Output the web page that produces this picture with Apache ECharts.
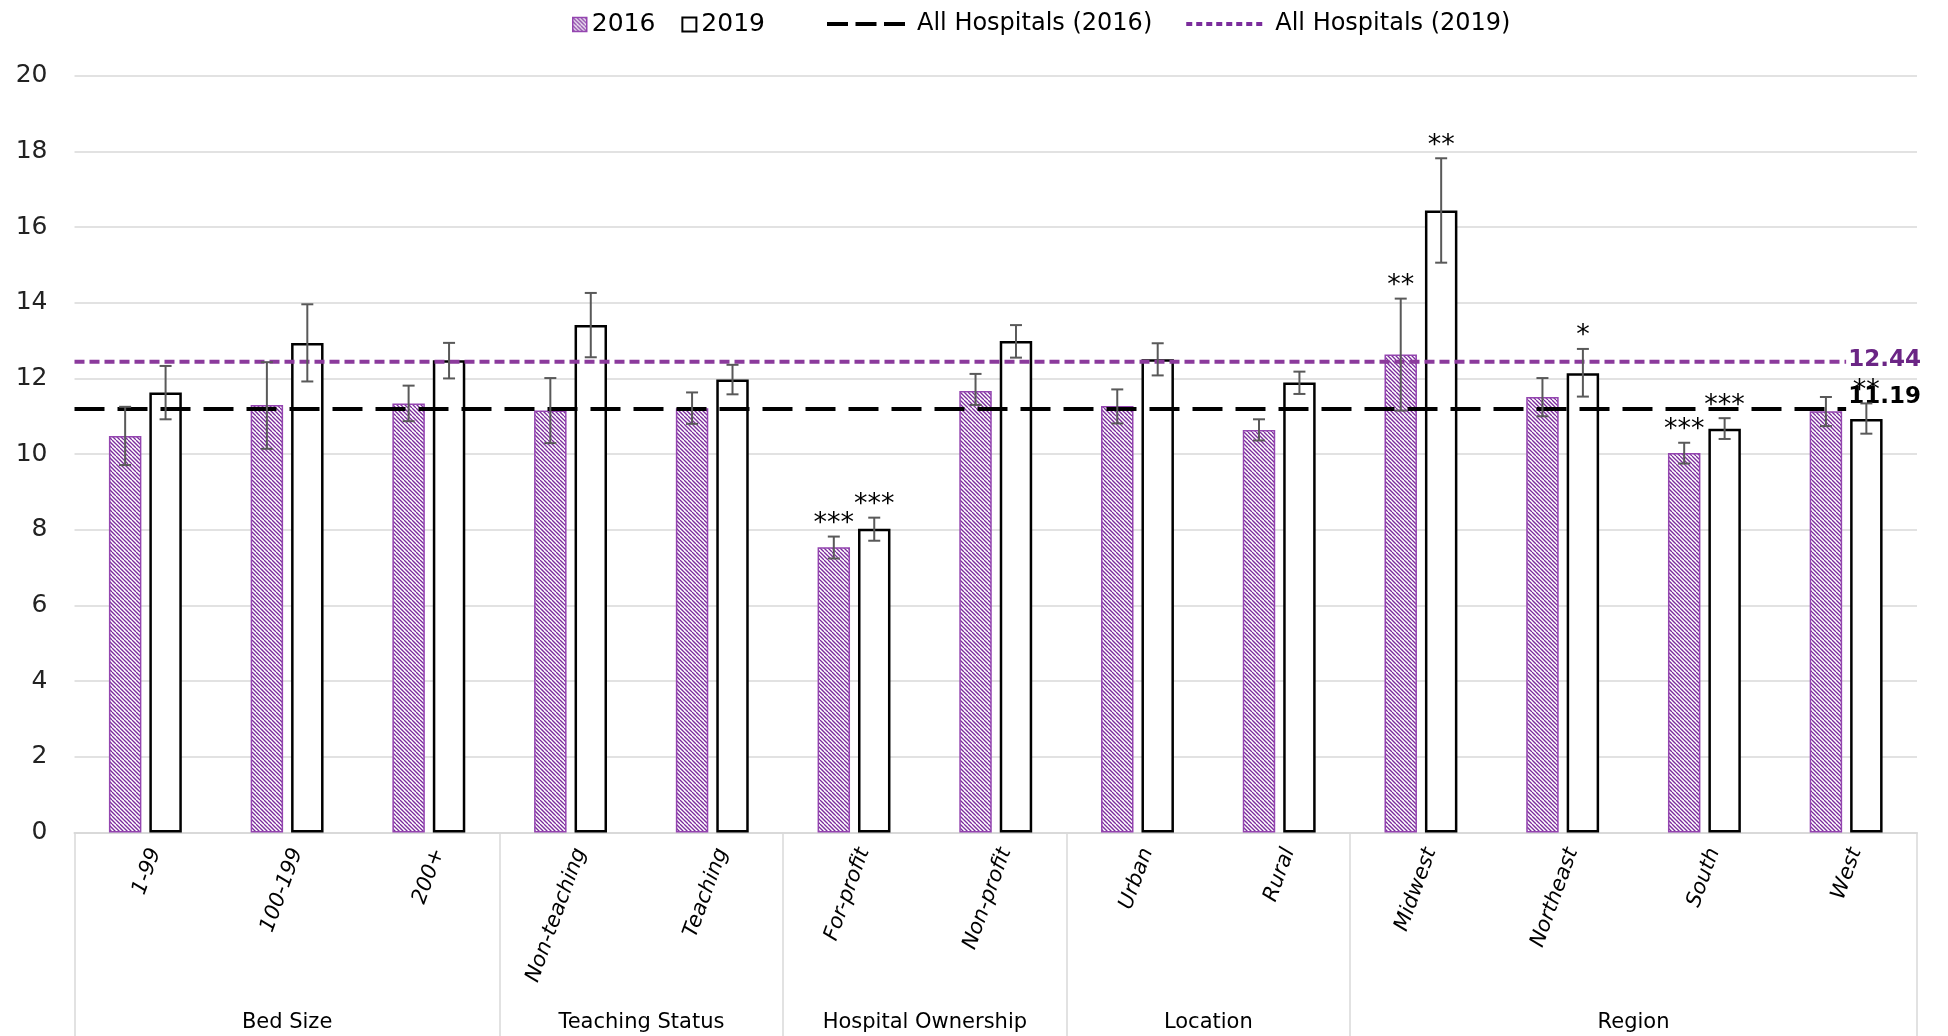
<!DOCTYPE html>
<html lang="en">

<head>
    <meta charset="UTF-8">
    <title>Hospital measures by characteristic, 2016 vs 2019</title>
    <script src="https://cdn.jsdelivr.net/npm/echarts@6/dist/echarts.min.js"></script>
    <style>
        body {
            margin: 0;
            padding: 0;
            background-color: #ffffff;
        }

        #chart {
            width: 1948px;
            height: 1036px;
        }
    </style>
</head>

<body>
    <div id="chart"></div>

    <script>
        // categories and groups
        const categories = ['1-99', '100-199', '200+', 'Non-teaching', 'Teaching', 'For-profit', 'Non-profit',
            'Urban', 'Rural', 'Midwest', 'Northeast', 'South', 'West'];
        const groupNames = ['Bed Size', 'Teaching Status', 'Hospital Ownership', 'Location', 'Region'];
        const groupSizes = [3, 2, 2, 2, 4];

        // 2016 values with error bar ends
        const val2016 = [10.48, 11.30, 11.34, 11.15, 11.21, 7.54, 11.67, 11.27, 10.64, 12.63, 11.51, 10.03, 11.13];
        const lo2016 = [9.71, 10.14, 10.87, 10.29, 10.80, 7.24, 11.30, 10.81, 10.36, 11.15, 11.00, 9.75, 10.74];
        const hi2016 = [11.25, 12.43, 11.81, 12.01, 11.63, 7.82, 12.12, 11.71, 10.92, 14.11, 12.01, 10.30, 11.51];
        const sig2016 = ['', '', '', '', '', '***', '', '', '', '**', '', '***', ''];

        // 2019 values with error bar ends
        const val2019 = [11.63, 12.94, 12.48, 13.41, 11.97, 8.03, 12.99, 12.51, 11.89, 16.44, 12.14, 10.67, 10.93];
        const lo2019 = [10.92, 11.92, 12.00, 12.56, 11.58, 7.71, 12.55, 12.08, 11.59, 15.06, 11.52, 10.40, 10.54];
        const hi2019 = [12.33, 13.96, 12.94, 14.26, 12.36, 8.32, 13.41, 12.93, 12.18, 17.82, 12.78, 10.95, 11.34];
        const sig2019 = ['', '', '', '', '', '***', '', '', '', '**', '*', '***', '**'];

        // all hospitals averages
        const allHosp2016 = 11.19;
        const allHosp2019 = 12.44;

        // group boundaries and centres on a 0..n scale
        const groupEdges = [0];
        groupSizes.forEach(function (s) { groupEdges.push(groupEdges[groupEdges.length - 1] + s); });
        const groupCenters = groupSizes.map(function (s, i) { return groupEdges[i] + s / 2; });

        // purple hatch for the 2016 bars
        const hatch = document.createElement('canvas');
        hatch.width = 8;
        hatch.height = 8;
        const hctx = hatch.getContext('2d');
        hctx.fillStyle = '#ffffff';
        hctx.fillRect(0, 0, 8, 8);
        hctx.strokeStyle = '#7B2C9C';
        hctx.lineWidth = 1.3;
        [-8, -4, 0, 4, 8].forEach(function (x0) {
            hctx.beginPath();
            hctx.moveTo(x0, 0);
            hctx.lineTo(x0 + 8, 8);
            hctx.stroke();
        });
        const hatchFill = { image: hatch, repeat: 'repeat' };

        // legend icons for the dashed reference lines
        function dashIcon(dash, gap, total) {
            let p = 'path://';
            for (let x = 0; x + dash <= total + 0.01; x += dash + gap) {
                p += 'M' + x + ',0h' + dash + 'v4h-' + dash + 'z ';
            }
            return p;
        }

        const BAR_W = 0.229;   // share of the category band
        const BAR_GAP = 0.246; // share of bar width

        function errorBars(lo, hi, sig, side) {
            return function (params, api) {
                const i = params.dataIndex;
                const band = api.size([1, 0])[0];
                const bw = band * BAR_W;
                const dx = side * (bw + bw * BAR_GAP) / 2;
                const top = api.coord([i, hi[i]]);
                const bot = api.coord([i, lo[i]]);
                const x = top[0] + dx;
                const cap = 6;
                const st = { stroke: '#595959', lineWidth: 2 };
                const children = [
                    { type: 'line', shape: { x1: x, y1: top[1], x2: x, y2: bot[1] }, style: st },
                    { type: 'line', shape: { x1: x - cap, y1: top[1], x2: x + cap, y2: top[1] }, style: st },
                    { type: 'line', shape: { x1: x - cap, y1: bot[1], x2: x + cap, y2: bot[1] }, style: st }
                ];
                if (sig[i]) {
                    children.push({
                        type: 'text',
                        style: {
                            x: x,
                            y: top[1] + 1,
                            text: sig[i],
                            fill: '#000',
                            font: '27px "DejaVu Sans"',
                            align: 'center',
                            verticalAlign: 'bottom'
                        }
                    });
                }
                return { type: 'group', children: children };
            };
        }

        const chart = echarts.init(document.getElementById('chart'));
        const option = {
            animation: false,
            textStyle: { fontFamily: '"DejaVu Sans", Verdana, sans-serif' },
            legend: [{
                left: 567,
                top: 7,
                itemWidth: 14,
                itemHeight: 14,
                itemGap: 26,
                textStyle: { fontSize: 25, color: '#000' },
                data: [
                    { name: '2016', icon: 'rect', itemStyle: { color: hatchFill, borderColor: '#9445B0', borderWidth: 1.5 } },
                    { name: '2019', icon: 'rect', itemStyle: { color: '#fff', borderColor: '#000', borderWidth: 2 } }
                ]
            }, {
                left: 822,
                top: 7,
                itemWidth: 78,
                itemHeight: 4,
                itemGap: 34,
                textStyle: { fontSize: 24, color: '#000', padding: [0, 0, 0, 7] },
                data: [
                    { name: 'All Hospitals (2016)', icon: dashIcon(21, 7.5, 78), itemStyle: { color: '#000', borderWidth: 0 } },
                    { name: 'All Hospitals (2019)', icon: dashIcon(6, 4, 78), itemStyle: { color: '#7B2C9C', borderWidth: 0 } }
                ]
            }],
            grid: {
                left: 74.5,
                right: 31,
                top: 75.8,
                bottom: 203.6,
                containLabel: false
            },
            xAxis: [{
                type: 'category',
                data: categories,
                axisLine: { lineStyle: { color: '#d9d9d9', width: 2 } },
                axisTick: { show: false },
                axisLabel: {
                    interval: 0,
                    rotate: 70,
                    verticalAlign: 'top',
                    fontStyle: 'italic',
                    fontSize: 21,
                    color: '#000',
                    margin: 13
                }
            }, {
                type: 'value',
                min: 0,
                max: categories.length,
                position: 'bottom',
                axisLine: { show: false },
                splitLine: { show: false },
                axisTick: {
                    show: true,
                    customValues: groupEdges,
                    length: 204,
                    lineStyle: { color: '#d9d9d9', width: 1.5 }
                },
                axisLabel: {
                    customValues: groupCenters,
                    margin: 180,
                    fontSize: 21,
                    color: '#000',
                    formatter: function (v) {
                        const k = groupCenters.indexOf(v);
                        return k >= 0 ? groupNames[k] : '';
                    }
                }
            }],
            yAxis: {
                type: 'value',
                min: 0,
                max: 20,
                interval: 2,
                axisLine: { show: false },
                axisTick: { show: false },
                axisLabel: { fontSize: 25, color: '#222', margin: 27 },
                splitLine: { lineStyle: { color: '#d9d9d9', width: 1.5 } }
            },
            series: [{
                name: '2016',
                type: 'bar',
                data: val2016,
                barWidth: (BAR_W * 100) + '%',
                barGap: (BAR_GAP * 100) + '%',
                itemStyle: { color: hatchFill, borderColor: '#9445B0', borderWidth: 1.5 },
                z: 2
            }, {
                name: '2019',
                type: 'bar',
                data: val2019,
                barWidth: (BAR_W * 100) + '%',
                barGap: (BAR_GAP * 100) + '%',
                itemStyle: { color: '#fff', borderColor: '#000', borderWidth: 2.5 },
                z: 2
            }, {
                name: 'All Hospitals (2016)',
                type: 'line',
                xAxisIndex: 1,
                data: [[0, allHosp2016], [categories.length - 0.5, allHosp2016]],
                symbol: 'none',
                silent: true,
                lineStyle: { color: '#000', width: 4, type: [30, 13] },
                itemStyle: { color: '#000' },
                endLabel: {
                    show: true,
                    formatter: allHosp2016.toFixed(2),
                    fontSize: 23,
                    fontWeight: 'bold',
                    color: '#000',
                    distance: 2,
                    offset: [0, -12]
                },
                z: 3
            }, {
                name: 'All Hospitals (2019)',
                type: 'line',
                xAxisIndex: 1,
                data: [[0, allHosp2019], [categories.length - 0.5, allHosp2019]],
                symbol: 'none',
                silent: true,
                lineStyle: { color: '#8B3A9C', width: 4, type: [10, 5] },
                itemStyle: { color: '#8B3A9C' },
                endLabel: {
                    show: true,
                    formatter: allHosp2019.toFixed(2),
                    fontSize: 23,
                    fontWeight: 'bold',
                    color: '#6B2585',
                    distance: 2,
                    offset: [0, -2]
                },
                z: 3
            }, {
                name: 'err2016',
                type: 'custom',
                renderItem: errorBars(lo2016, hi2016, sig2016, -1),
                data: categories.map(function (c, i) { return [i, lo2016[i], hi2016[i]]; }),
                encode: { x: 0, y: [1, 2] },
                silent: true,
                z: 4
            }, {
                name: 'err2019',
                type: 'custom',
                renderItem: errorBars(lo2019, hi2019, sig2019, 1),
                data: categories.map(function (c, i) { return [i, lo2019[i], hi2019[i]]; }),
                encode: { x: 0, y: [1, 2] },
                silent: true,
                z: 4
            }]
        };
        chart.setOption(option);
    </script>
</body>

</html>
